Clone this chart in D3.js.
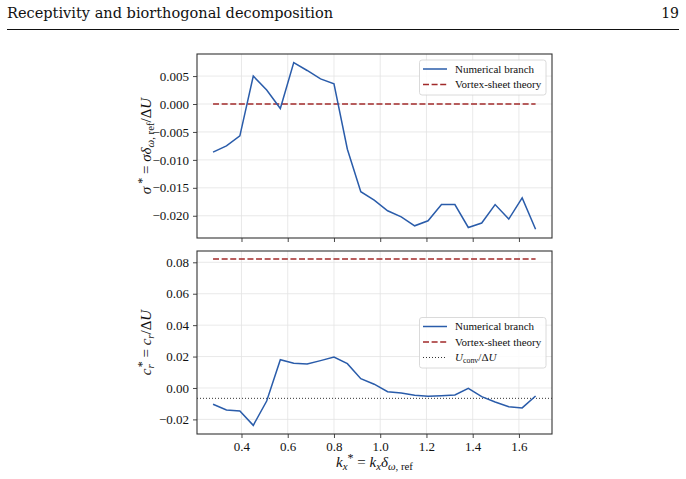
<!DOCTYPE html>
<html>
<head>
<meta charset="utf-8">
<script src="https://cdn.jsdelivr.net/npm/d3@7"></script>
<style>
  body { margin: 0; background: #fff; }
  svg { display: block; }
  text { font-family: "Liberation Serif", "Times New Roman", serif; fill: #111; }
</style>
</head>
<body>
<div class="chart"></div>
<script>
const width = 686;
const height = 479;

// wavenumbers k_x*
const kx = [0.277, 0.335, 0.393, 0.451, 0.509, 0.568, 0.626, 0.684, 0.742, 0.800,
  0.858, 0.916, 0.974, 1.032, 1.091, 1.149, 1.207, 1.265, 1.323, 1.381,
  1.439, 1.497, 1.556, 1.614, 1.672];

// growth rate sigma*
const sigma = [-0.0086, -0.0075, -0.0057, 0.0050, 0.0025, -0.0008, 0.0074, 0.0060, 0.0045, 0.0036,
  -0.0081, -0.0157, -0.0172, -0.0191, -0.0202, -0.0218, -0.0209, -0.0180, -0.0180, -0.0221,
  -0.0213, -0.0180, -0.0206, -0.0168, -0.0224];

// phase speed c_r*
const cr = [-0.0104, -0.0140, -0.0146, -0.0238, -0.0083, 0.0180, 0.0157, 0.0153, 0.0174, 0.0197,
  0.0155, 0.0059, 0.0024, -0.0024, -0.0032, -0.0047, -0.0053, -0.0049, -0.0045, -0.0002,
  -0.0055, -0.0089, -0.0119, -0.0127, -0.0051];

const sigmaTheory = 0.0;
const crTheory = 0.0821;
const uConv = -0.0066;

const xTicks = [0.4, 0.6, 0.8, 1.0, 1.2, 1.4, 1.6];
const sigmaTicks = [-0.020, -0.015, -0.010, -0.005, 0.000, 0.005];
const crTicks = [-0.02, 0.00, 0.02, 0.04, 0.06, 0.08];

const blue = "#2a5caa";
const red = "#a12a2a";

const svg = d3.select(".chart")
  .append("svg")
  .attr("width", width)
  .attr("height", height);

// page header
svg.append("text")
  .attr("x", 7).attr("y", 18)
  .style("font-family", "'DejaVu Serif', serif")
  .attr("font-size", 14)
  .attr("textLength", 326)
  .attr("lengthAdjust", "spacingAndGlyphs")
  .text("Receptivity and biorthogonal decomposition");

svg.append("text")
  .attr("x", 679).attr("y", 18)
  .attr("text-anchor", "end")
  .style("font-family", "'DejaVu Serif', serif")
  .attr("font-size", 14)
  .text("19");

svg.append("line")
  .attr("x1", 7).attr("x2", 679)
  .attr("y1", 29.5).attr("y2", 29.5)
  .attr("stroke", "#111")
  .attr("stroke-width", 1);

const x = d3.scaleLinear().domain([0.2076, 1.743]).range([197, 552]);

const ySigma = d3.scaleLinear().domain([-0.02398, 0.00895]).range([238, 54]);
const yCr = d3.scaleLinear().domain([-0.0293, 0.0872]).range([434, 251]);

// writes a label made of pieces: [text, {italic, sub, sup, dx}]
const richText = (sel, parts) => {
  parts.forEach(([t, o = {}]) => {
    const ts = sel.append("tspan").text(t);
    if (o.italic) ts.attr("font-style", "italic");
    if (o.sub) ts.attr("baseline-shift", "-25%").attr("font-size", "72%");
    if (o.sup) ts.attr("baseline-shift", "45%").attr("font-size", "80%");
    if (o.dx) ts.attr("dx", o.dx);
  });
};

const drawPanel = (y, yTicks, fmt, showX) => {
  const [y0, y1] = y.range();
  const g = svg.append("g");

  // grid
  g.append("g").selectAll("line").data(xTicks).join("line")
    .attr("x1", d => x(d)).attr("x2", d => x(d))
    .attr("y1", y1).attr("y2", y0)
    .attr("stroke", "#e3e3e3").attr("stroke-width", 0.8);
  g.append("g").selectAll("line").data(yTicks).join("line")
    .attr("x1", 197).attr("x2", 552)
    .attr("y1", d => y(d)).attr("y2", d => y(d))
    .attr("stroke", "#e3e3e3").attr("stroke-width", 0.8);

  const xAxis = g.append("g")
    .attr("transform", `translate(0,${y0})`)
    .call(d3.axisBottom(x).tickValues(xTicks).tickSizeOuter(0).tickSize(4).tickPadding(4)
      .tickFormat(showX ? d3.format(".1f") : () => ""));
  const yAxis = g.append("g")
    .attr("transform", "translate(197,0)")
    .call(d3.axisLeft(y).tickValues(yTicks).tickSizeOuter(0).tickSize(4).tickPadding(4)
      .tickFormat(d3.format(fmt)));
  [xAxis, yAxis].forEach(a => {
    a.attr("font-family", null);
    a.select(".domain").remove();
    a.selectAll(".tick line").attr("stroke", "#333").attr("stroke-width", 0.9);
    a.selectAll(".tick text")
      .style("font-family", "'Liberation Serif', serif")
      .attr("font-size", 13).attr("fill", "#111");
  });

  g.append("rect")
    .attr("x", 197).attr("y", y1)
    .attr("width", 355).attr("height", y0 - y1)
    .attr("fill", "none").attr("stroke", "#333").attr("stroke-width", 1.1);
  return g;
};

const line = (y) => d3.line().x((d, i) => x(kx[i])).y(d => y(d));

// top panel: sigma*
const topPanel = drawPanel(ySigma, sigmaTicks, ".3f", false);
topPanel.append("line")
  .attr("x1", x(kx[0])).attr("x2", x(kx[kx.length - 1]))
  .attr("y1", ySigma(sigmaTheory)).attr("y2", ySigma(sigmaTheory))
  .attr("stroke", red).attr("stroke-width", 1.6).attr("stroke-dasharray", "6,2.6");
topPanel.append("path")
  .datum(sigma)
  .attr("d", line(ySigma))
  .attr("fill", "none").attr("stroke", blue).attr("stroke-width", 1.5);

// bottom panel: c_r*
const bottomPanel = drawPanel(yCr, crTicks, ".2f", true);
bottomPanel.append("line")
  .attr("x1", 197).attr("x2", 552)
  .attr("y1", yCr(uConv)).attr("y2", yCr(uConv))
  .attr("stroke", "#333").attr("stroke-width", 1).attr("stroke-dasharray", "1,2");
bottomPanel.append("line")
  .attr("x1", x(kx[0])).attr("x2", x(kx[kx.length - 1]))
  .attr("y1", yCr(crTheory)).attr("y2", yCr(crTheory))
  .attr("stroke", red).attr("stroke-width", 1.6).attr("stroke-dasharray", "6,2.6");
bottomPanel.append("path")
  .datum(cr)
  .attr("d", line(yCr))
  .attr("fill", "none").attr("stroke", blue).attr("stroke-width", 1.5);

// legends
const legend = (y0, items) => {
  const g = svg.append("g").attr("transform", `translate(419.5,${y0})`);
  g.append("rect")
    .attr("width", 126.5).attr("height", items.length * 15.5 + 4)
    .attr("rx", 2.5)
    .attr("fill", "#fff").attr("fill-opacity", 0.85)
    .attr("stroke", "#d0d0d0").attr("stroke-width", 0.8);
  items.forEach((it, i) => {
    const cy = 9 + i * 15.5;
    g.append("line")
      .attr("x1", 3.5).attr("x2", 27.5).attr("y1", cy).attr("y2", cy)
      .attr("stroke", it.color).attr("stroke-width", it.width)
      .attr("stroke-dasharray", it.dash);
    const t = g.append("text")
      .attr("x", 35.5).attr("y", cy + 3.8)
      .attr("font-size", 11);
    richText(t, it.label);
  });
};

legend(60, [
  { color: blue, width: 1.5, dash: null, label: [["Numerical branch"]] },
  { color: red, width: 1.6, dash: "6,2.6", label: [["Vortex-sheet theory"]] }
]);
legend(317.5, [
  { color: blue, width: 1.5, dash: null, label: [["Numerical branch"]] },
  { color: red, width: 1.6, dash: "6,2.6", label: [["Vortex-sheet theory"]] },
  { color: "#333", width: 1, dash: "1,2", label: [["U", { italic: true }], ["conv", { sub: true }], ["/Δ"], ["U", { italic: true }]] }
]);

// axis labels
const xl = svg.append("text")
  .attr("x", 374.5).attr("y", 467)
  .attr("text-anchor", "middle")
  .attr("font-size", 15);
richText(xl, [["k", { italic: true }], ["x", { italic: true, sub: true }], ["*", { sup: true }],
  [" = "], ["k", { italic: true }], ["x", { italic: true, sub: true }], ["δ", { italic: true }],
  ["ω", { italic: true, sub: true }], [", ref", { sub: true }]]);

const yl1 = svg.append("text")
  .attr("transform", "translate(151,146) rotate(-90)")
  .attr("text-anchor", "middle")
  .attr("font-size", 15);
richText(yl1, [["σ", { italic: true }], [" *", { sup: true }], [" = "], ["σδ", { italic: true }],
  ["ω", { italic: true, sub: true }], [", ref", { sub: true }], ["/Δ"], ["U", { italic: true }]]);

const yl2 = svg.append("text")
  .attr("transform", "translate(151,342.5) rotate(-90)")
  .attr("text-anchor", "middle")
  .attr("font-size", 15);
richText(yl2, [["c", { italic: true }], ["r", { italic: true, sub: true }], ["*", { sup: true, dx: -3 }],
  [" = "], ["c", { italic: true }], ["r", { italic: true, sub: true }], ["/Δ"], ["U", { italic: true }]]);
</script>
</body>
</html>
